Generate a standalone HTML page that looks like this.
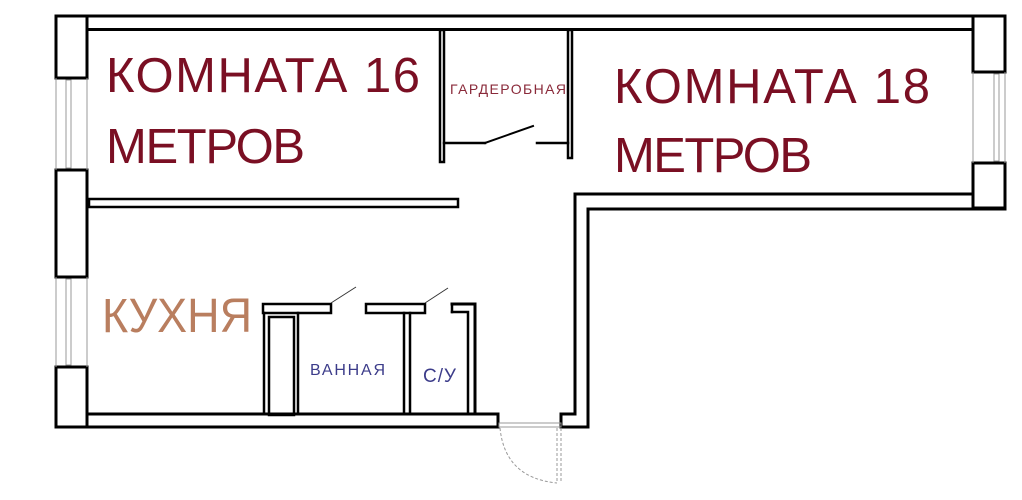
<!DOCTYPE html>
<html><head><meta charset="utf-8"><style>
html,body{margin:0;padding:0;background:#fff;}
svg{display:block}
text{font-family:"Liberation Sans","Noto Sans CJK SC",sans-serif;}
</style></head><body>
<svg width="1022" height="500" viewBox="0 0 1022 500" xmlns="http://www.w3.org/2000/svg">
<rect width="1022" height="500" fill="#fff"/>
<g stroke="#000" stroke-width="3" fill="none" stroke-linecap="square">
<line x1="56" y1="16" x2="1005" y2="16"/>
<line x1="88" y1="29.5" x2="973" y2="29.5"/>
<rect x="56" y="16" width="31" height="62" fill="#fff"/>
<rect x="56" y="170" width="31" height="107" fill="#fff"/>
<rect x="56" y="367" width="31" height="60" fill="#fff"/>
<rect x="973" y="16" width="32" height="56" fill="#fff"/>
<rect x="973" y="163" width="32" height="45" fill="#fff"/>
<line x1="56" y1="427" x2="498" y2="427"/>
<line x1="87" y1="414" x2="498" y2="414"/>
<line x1="498" y1="414" x2="498" y2="427"/>
<line x1="561" y1="414" x2="561" y2="427"/>
<line x1="561" y1="414" x2="575" y2="414"/>
<line x1="561" y1="427" x2="588" y2="427"/>
<polyline points="575,414 575,194 973,194"/>
<polyline points="588,427 588,209 1005,209"/>
<rect x="440" y="30" width="4" height="132" stroke-width="2.5"/>
<rect x="568" y="30" width="4" height="128" stroke-width="2.5"/>
<line x1="444" y1="143" x2="485" y2="143" stroke-width="2.5"/>
<line x1="485" y1="143" x2="533" y2="126" stroke-width="2"/>
<line x1="537" y1="143" x2="568" y2="143" stroke-width="2.5"/>
<rect x="263" y="304" width="68" height="9" stroke-width="2.5"/>
<rect x="366" y="304" width="59" height="9" stroke-width="2.5"/>
<polyline points="452,304 475,304 475,414" stroke-width="3"/>
<line x1="452" y1="304" x2="452" y2="312" stroke-width="2.5"/>
<polyline points="452,312 468,312 468,414" stroke-width="2.5"/>
<line x1="264" y1="313" x2="264" y2="414" stroke-width="2.5"/>
<rect x="269" y="317" width="25" height="98" stroke-width="2.5"/>
<line x1="298" y1="313" x2="298" y2="414" stroke-width="2.5"/>
<line x1="404" y1="313" x2="404" y2="414" stroke-width="2.5"/>
<line x1="410" y1="313" x2="410" y2="414" stroke-width="2.5"/>
<rect x="89" y="199" width="369" height="8" stroke-width="2.5"/>
</g>
<line x1="331" y1="303" x2="356" y2="287" stroke="#333" stroke-width="1"/>
<line x1="425" y1="303" x2="448" y2="288" stroke="#333" stroke-width="1"/>
<g stroke="#999" stroke-width="1" fill="none">
<rect x="66" y="80" width="5" height="88"/>
<rect x="66" y="279" width="5" height="86"/>
<rect x="994" y="74" width="5" height="87"/>
<line x1="56" y1="78" x2="56" y2="170"/><line x1="87" y1="78" x2="87" y2="170"/>
<line x1="56" y1="277" x2="56" y2="367"/><line x1="87" y1="277" x2="87" y2="367"/>
<line x1="973" y1="72" x2="973" y2="163"/><line x1="1005" y1="72" x2="1005" y2="163"/>
<rect x="499" y="423" width="62" height="4"/>
<path d="M500 428 Q505 478 557 483" stroke-dasharray="3,2"/>
<line x1="557" y1="428" x2="557" y2="483" stroke-dasharray="3,2"/>
<line x1="561" y1="428" x2="561" y2="483" stroke-dasharray="3,2"/>
</g>
<g fill="#7a0f23">
<text x="106" y="92" font-size="49" textLength="314" lengthAdjust="spacing">КОМНАТА 16</text>
<text x="106" y="163" font-size="49" textLength="199" lengthAdjust="spacing">МЕТРОВ</text>
<text x="614" y="103" font-size="49" textLength="316" lengthAdjust="spacing">КОМНАТА 18</text>
<text x="614" y="172" font-size="49" textLength="198" lengthAdjust="spacing">МЕТРОВ</text>
<text x="450" y="94" font-size="14" fill="#8a2a3a" textLength="116" lengthAdjust="spacing">ГАРДЕРОБНАЯ</text>
</g>
<text x="102" y="332" font-size="48" fill="#b97e5f" textLength="150" lengthAdjust="spacingAndGlyphs">КУХНЯ</text>
<text x="310" y="375" font-size="16" fill="#3c3c8a" textLength="75" lengthAdjust="spacing">ВАННАЯ</text>
<text x="423" y="382" font-size="19" fill="#3c3c8a" textLength="33" lengthAdjust="spacing">С/У</text>
</svg>
</body></html>
